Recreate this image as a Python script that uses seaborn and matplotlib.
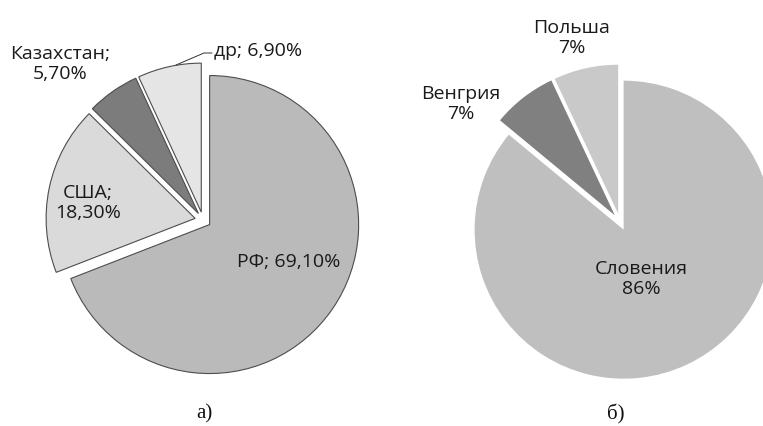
import numpy as np
import matplotlib
matplotlib.use("Agg")
import matplotlib.pyplot as plt
import seaborn as sns

sns.set_theme(style="white")
plt.rcParams['font.family'] = ['Open Sans', 'DejaVu Sans']

# а) слева
left_names = ["РФ", "США", "Казахстан", "др"]
left_values = [69.1, 18.3, 5.7, 6.9]
left_colors = ["#bababa", "#dadada", "#7c7c7c", "#e5e5e5"]
left_explode = [0.054, 0.054, 0.054, 0.054]

# б) справа
right_names = ["Словения", "Венгрия", "Польша"]
right_values = [86, 7, 7]
right_colors = ["#bfbfbf", "#808080", "#c9c9c9"]
right_explode = [0.057, 0.057, 0.057]

W, H = 763, 426
fig = plt.figure(figsize=(W / 100, H / 100), dpi=100)
ax = fig.add_axes([0, 0, 1, 1])

R = 149
fs = 14

# explode в matplotlib задаётся в единицах данных, поэтому умножаем на радиус
ax.pie(left_values, colors=left_colors, explode=[e * R for e in left_explode],
       startangle=90, counterclock=False, center=(203, H - 220), radius=R,
       wedgeprops=dict(edgecolor="#4d4d4d", linewidth=0.8), frame=True)


def fmt(v):
    return f"{v:.2f}".replace(".", ",") + "%"


ax.text(289, H - 262, f"{left_names[0]}; {fmt(left_values[0])}", ha='center', va='center',
        fontsize=fs, color="#1a1a1a")
ax.text(88, H - 203, f"{left_names[1]};\n{fmt(left_values[1])}", ha='center', va='center',
        fontsize=fs, color="#1a1a1a", linespacing=1.2)
ax.text(60, H - 64, f"{left_names[2]};\n{fmt(left_values[2])}", ha='center', va='center',
        fontsize=fs, color="#1a1a1a", linespacing=1.2)
ax.text(214, H - 51, f"{left_names[3]}; {fmt(left_values[3])}", ha='left', va='center',
        fontsize=fs, color="#1a1a1a")
ax.plot([212, 204, 176], [H - 53, H - 53, H - 65], color="#333333", lw=0.7)

ax.pie(right_values, colors=right_colors, explode=[e * R for e in right_explode],
       startangle=90, counterclock=False, center=(620, H - 222), radius=R,
       wedgeprops=dict(edgecolor="none"), frame=True)

ax.text(641, H - 279, f"{right_names[0]}\n{right_values[0]}%", ha='center', va='center',
        fontsize=fs, color="#1a1a1a", linespacing=1.2)
ax.text(461, H - 104, f"{right_names[1]}\n{right_values[1]}%", ha='center', va='center',
        fontsize=fs, color="#1a1a1a", linespacing=1.2)
ax.text(572, H - 38, f"{right_names[2]}\n{right_values[2]}%", ha='center', va='center',
        fontsize=fs, color="#1a1a1a", linespacing=1.2)

ax.set_xlim(0, W)
ax.set_ylim(0, H)
ax.set_aspect('equal')
ax.axis('off')

ax.text(204, H - 414, "а)", ha='center', va='center', fontsize=15,
        family=['Liberation Serif', 'DejaVu Serif'], color="#111111")
ax.text(616, H - 414, "б)", ha='center', va='center', fontsize=15,
        family=['Liberation Serif', 'DejaVu Serif'], color="#111111")

fig.savefig("out.png", dpi=100, facecolor="white")
